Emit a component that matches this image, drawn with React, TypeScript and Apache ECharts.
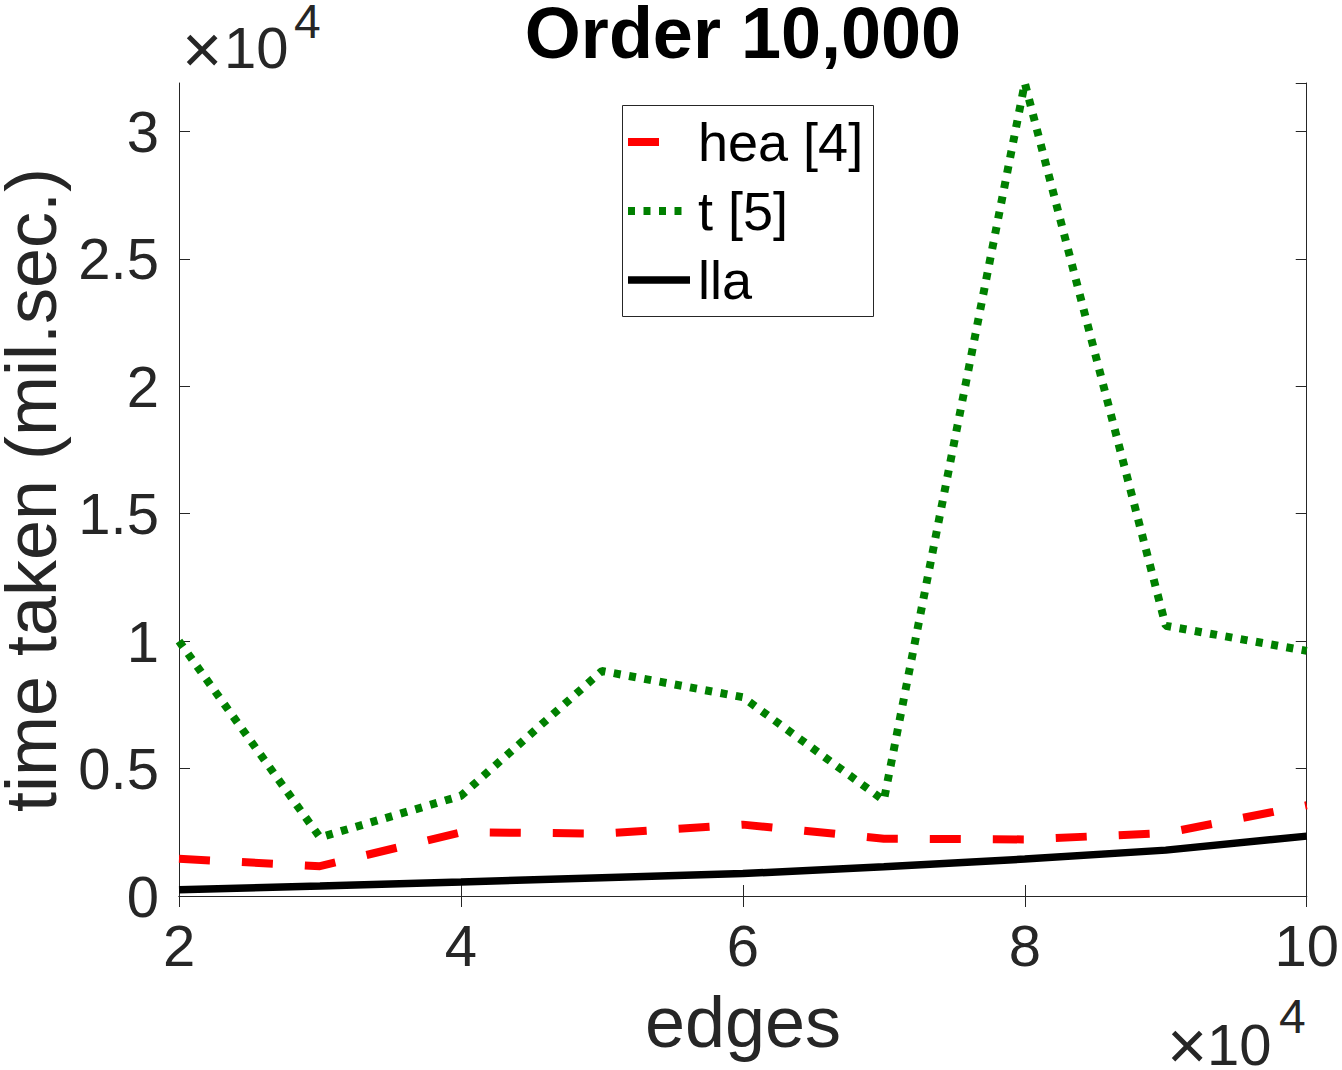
import React, { useEffect, useRef } from "react";
import * as echarts from "echarts";

// x values: number of edges
const edges = [20000, 30000, 40000, 50000, 60000, 70000, 80000, 90000, 100000];
// time taken (mil.sec.)
const heaTimes = [1460, 1170, 2500, 2450, 2800, 2250, 2220, 2470, 3560];
const tTimes = [10000, 2300, 3930, 8830, 7800, 3750, 31900, 10600, 9620];
const llaTimes = [250, 390, 550, 720, 880, 1150, 1450, 1800, 2350];
const seriesNames = ["hea [4]", "t [5]", "lla"];
const seriesColors = ["#ff0000", "#008000", "#000000"];

const titleText = "Order 10,000";
const xLabelText = "edges";
const yLabelText = "time taken (mil.sec.)";

const FONT = '"Liberation Sans", Arial, Helvetica, sans-serif';
const AX = "#262626";

const X_MIN = 20000;
const X_MAX = 100000;
const X_INT = 20000;
const Y_MIN = 0;
const Y_MAX = 31900;
const Y_INT = 5000;

const toPairs = (ys: number[]) => edges.map((x, i) => [x, ys[i]]);

export default function App() {
  const ref = useRef<HTMLDivElement>(null);
  useEffect(() => {
    document.body.style.margin = "0";
    document.body.style.overflow = "hidden";
    if (!ref.current) return;
    const chart = echarts.init(ref.current, null, { renderer: "svg" });

    const lineStyles = [
      { color: seriesColors[0], width: 8, type: [31, 32] as any, cap: "butt" },
      { color: seriesColors[1], width: 8, type: [7, 8.5] as any, cap: "butt" },
      { color: seriesColors[2], width: 7.5, type: "solid", cap: "butt" },
    ];
    const datasets = [heaTimes, tTimes, llaTimes];

    const legendX0 = 628;
    const legendX1 = 690;
    const legendYs = [142, 211, 280];

    const legendGraphics: any[] = [
      {
        type: "rect",
        shape: { x: 622.5, y: 105.5, width: 251, height: 211 },
        style: { fill: "#ffffff", stroke: AX, lineWidth: 1 },
        z: 100,
      },
    ];
    seriesNames.forEach((name, i) => {
      legendGraphics.push({
        type: "line",
        shape: { x1: legendX0, y1: legendYs[i], x2: legendX1, y2: legendYs[i] },
        style: {
          stroke: lineStyles[i].color,
          lineWidth: lineStyles[i].width,
          lineDash: lineStyles[i].type === "solid" ? null : lineStyles[i].type,
          lineCap: "butt",
        },
        z: 101,
      });
      legendGraphics.push({
        type: "text",
        x: 698,
        y: legendYs[i],
        style: {
          text: name,
          fontSize: 54,
          fontFamily: FONT,
          fill: "#000000",
          align: "left",
          verticalAlign: "middle",
        },
        z: 101,
      });
    });

    const option: any = {
      animation: false,
      backgroundColor: "#ffffff",
      grid: { left: 179, top: 83, right: 35, bottom: 174, containLabel: false },
      xAxis: [
        {
          type: "value",
          position: "bottom",
          min: X_MIN,
          max: X_MAX,
          interval: X_INT,
          axisLine: { show: true, lineStyle: { color: AX, width: 1 } },
          axisTick: { show: true, inside: true, length: 11, lineStyle: { color: AX, width: 1 } },
          axisLabel: {
            show: true,
            margin: 20,
            color: AX,
            fontSize: 58,
            fontFamily: FONT,
            formatter: (v: number) => String(v / 1e4),
          },
          splitLine: { show: false },
        },
        {
          type: "value",
          position: "top",
          min: X_MIN,
          max: X_MAX,
          interval: X_INT,
          axisLine: { show: true, lineStyle: { color: AX, width: 1 } },
          axisTick: { show: true, inside: true, length: 11, lineStyle: { color: AX, width: 1 } },
          axisLabel: { show: false },
          splitLine: { show: false },
        },
      ],
      yAxis: [
        {
          type: "value",
          position: "left",
          min: Y_MIN,
          max: Y_MAX,
          interval: Y_INT,
          axisLine: { show: true, lineStyle: { color: AX, width: 1 } },
          axisTick: { show: true, inside: true, length: 11, lineStyle: { color: AX, width: 1 } },
          axisLabel: {
            show: true,
            margin: 20,
            color: AX,
            fontSize: 58,
            fontFamily: FONT,
            showMaxLabel: false,
            formatter: (v: number) => String(v / 1e4),
          },
          splitLine: { show: false },
        },
        {
          type: "value",
          position: "right",
          min: Y_MIN,
          max: Y_MAX,
          interval: Y_INT,
          axisLine: { show: true, lineStyle: { color: AX, width: 1 } },
          axisTick: { show: true, inside: true, length: 11, lineStyle: { color: AX, width: 1 } },
          axisLabel: { show: false },
          splitLine: { show: false },
        },
      ],
      series: seriesNames.map((name, i) => ({
        name,
        type: "line",
        xAxisIndex: 0,
        yAxisIndex: 0,
        data: toPairs(datasets[i]),
        symbol: "none",
        showSymbol: false,
        smooth: false,
        clip: true,
        lineStyle: lineStyles[i],
        z: 10 + i,
      })),
      graphic: [
        {
          type: "text",
          x: 743,
          y: 33,
          style: {
            text: titleText,
            fontSize: 72,
            lineHeight: 56,
            fontWeight: "bold",
            fontFamily: FONT,
            fill: "#000000",
            align: "center",
            verticalAlign: "middle",
          },
        },
        {
          type: "text",
          x: 743,
          y: 1022,
          style: {
            text: xLabelText,
            fontSize: 72,
            lineHeight: 72,
            fontFamily: FONT,
            fill: AX,
            align: "center",
            verticalAlign: "middle",
          },
        },
        {
          type: "text",
          x: 31,
          y: 490,
          rotation: Math.PI / 2,
          style: {
            text: yLabelText,
            fontSize: 72,
            lineHeight: 56,
            fontFamily: FONT,
            fill: AX,
            align: "center",
            verticalAlign: "middle",
          },
        },
        // y exponent (top-left)
        {
          type: "text",
          x: 182,
          y: 49,
          style: { text: "×", fontSize: 69, lineHeight: 50, fontFamily: FONT, fill: AX, align: "left", verticalAlign: "middle" },
        },
        {
          type: "text",
          x: 224,
          y: 47,
          style: { text: "10", fontSize: 58, lineHeight: 50, fontFamily: FONT, fill: AX, align: "left", verticalAlign: "middle" },
        },
        {
          type: "text",
          x: 294,
          y: 21,
          style: { text: "4", fontSize: 48, lineHeight: 36, fontFamily: FONT, fill: AX, align: "left", verticalAlign: "middle" },
        },
        // x exponent (bottom-right)
        {
          type: "text",
          x: 1167,
          y: 1045,
          style: { text: "×", fontSize: 69, lineHeight: 50, fontFamily: FONT, fill: AX, align: "left", verticalAlign: "middle" },
        },
        {
          type: "text",
          x: 1207,
          y: 1044,
          style: { text: "10", fontSize: 58, lineHeight: 50, fontFamily: FONT, fill: AX, align: "left", verticalAlign: "middle" },
        },
        {
          type: "text",
          x: 1279,
          y: 1016,
          style: { text: "4", fontSize: 48, lineHeight: 36, fontFamily: FONT, fill: AX, align: "left", verticalAlign: "middle" },
        },
        ...legendGraphics,
      ],
    };
    chart.setOption(option);
    return () => chart.dispose();
  }, []);
  return <div ref={ref} style={{ width: 1342, height: 1070 }} />;
}
